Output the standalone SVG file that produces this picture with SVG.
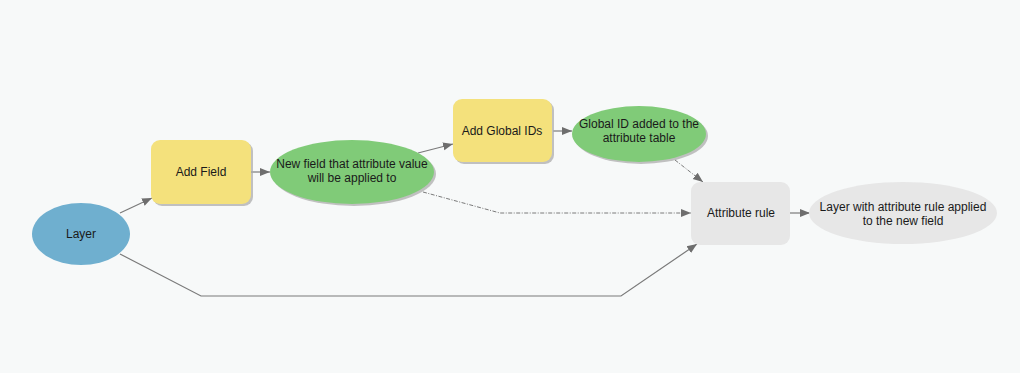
<svg xmlns="http://www.w3.org/2000/svg" width="1020" height="373" viewBox="0 0 1020 373">
<defs>
<marker id="ah" viewBox="0 0 10 10" refX="10" refY="5" markerWidth="10" markerHeight="10" markerUnits="userSpaceOnUse" orient="auto">
<path d="M0,1 L10,5 L0,9 z" fill="#6e6e6e"/>
</marker>
<style>
text{font-family:"Liberation Sans",Arial,sans-serif;font-size:12px;fill:#1a1a1a;text-anchor:middle}
.c{fill:none;stroke:#7a7a7a;stroke-width:1.2;marker-end:url(#ah)}
.d{stroke-dasharray:4 1.5 1 1.5;stroke-width:1}
.sh{fill:#a8a8a8;opacity:0.7}
.tool{fill:#f4e17c}
.data{fill:#80cb78}
.grey{fill:#e7e7e7}
</style>
</defs>
<rect width="1020" height="373" fill="#f7f9f9"/>
<g id="connectors">
<line class="c" x1="120" y1="213" x2="152" y2="198"/>
<line class="c" x1="251" y1="172" x2="270" y2="172"/>
<line class="c" x1="418" y1="153" x2="453" y2="144"/>
<line class="c" x1="553" y1="131" x2="572" y2="131"/>
<line class="c d" x1="675" y1="160" x2="703" y2="182"/>
<polyline class="c d" points="423,192 500,213 691,213"/>
<polyline class="c" points="120,254 201,296 621,296 697,244"/>
<line class="c" x1="790" y1="213" x2="810" y2="213"/>
</g>
<g id="layer">
<ellipse cx="81" cy="234" rx="49" ry="31" fill="#6fafcf"/>
<text x="81" y="238">Layer</text>
</g>
<g id="add-field">
<rect class="sh" x="153" y="142" width="100" height="64" rx="9"/>
<rect class="tool" x="151" y="140" width="100" height="64" rx="9"/>
<text x="201" y="176">Add Field</text>
</g>
<g id="new-field">
<ellipse class="sh" cx="354" cy="174" rx="82" ry="32"/>
<ellipse class="data" cx="352" cy="172" rx="82" ry="32"/>
<text x="352" y="168">New field that attribute value</text>
<text x="352" y="182">will be applied to</text>
</g>
<g id="add-global-ids">
<rect class="sh" x="455" y="101" width="99" height="63" rx="9"/>
<rect class="tool" x="453" y="99" width="99" height="63" rx="9"/>
<text x="502" y="135">Add Global IDs</text>
</g>
<g id="global-id">
<ellipse class="sh" cx="641" cy="136" rx="67" ry="28"/>
<ellipse class="data" cx="639" cy="134" rx="67" ry="28"/>
<text x="639" y="128">Global ID added to the</text>
<text x="639" y="142">attribute table</text>
</g>
<g id="attribute-rule">
<rect class="grey" x="691" y="182" width="99" height="63" rx="9"/>
<text x="741" y="217">Attribute rule</text>
</g>
<g id="output">
<ellipse class="grey" cx="903" cy="213" rx="94" ry="31"/>
<text x="903" y="211">Layer with attribute rule applied</text>
<text x="903" y="225">to the new field</text>
</g>
</svg>
